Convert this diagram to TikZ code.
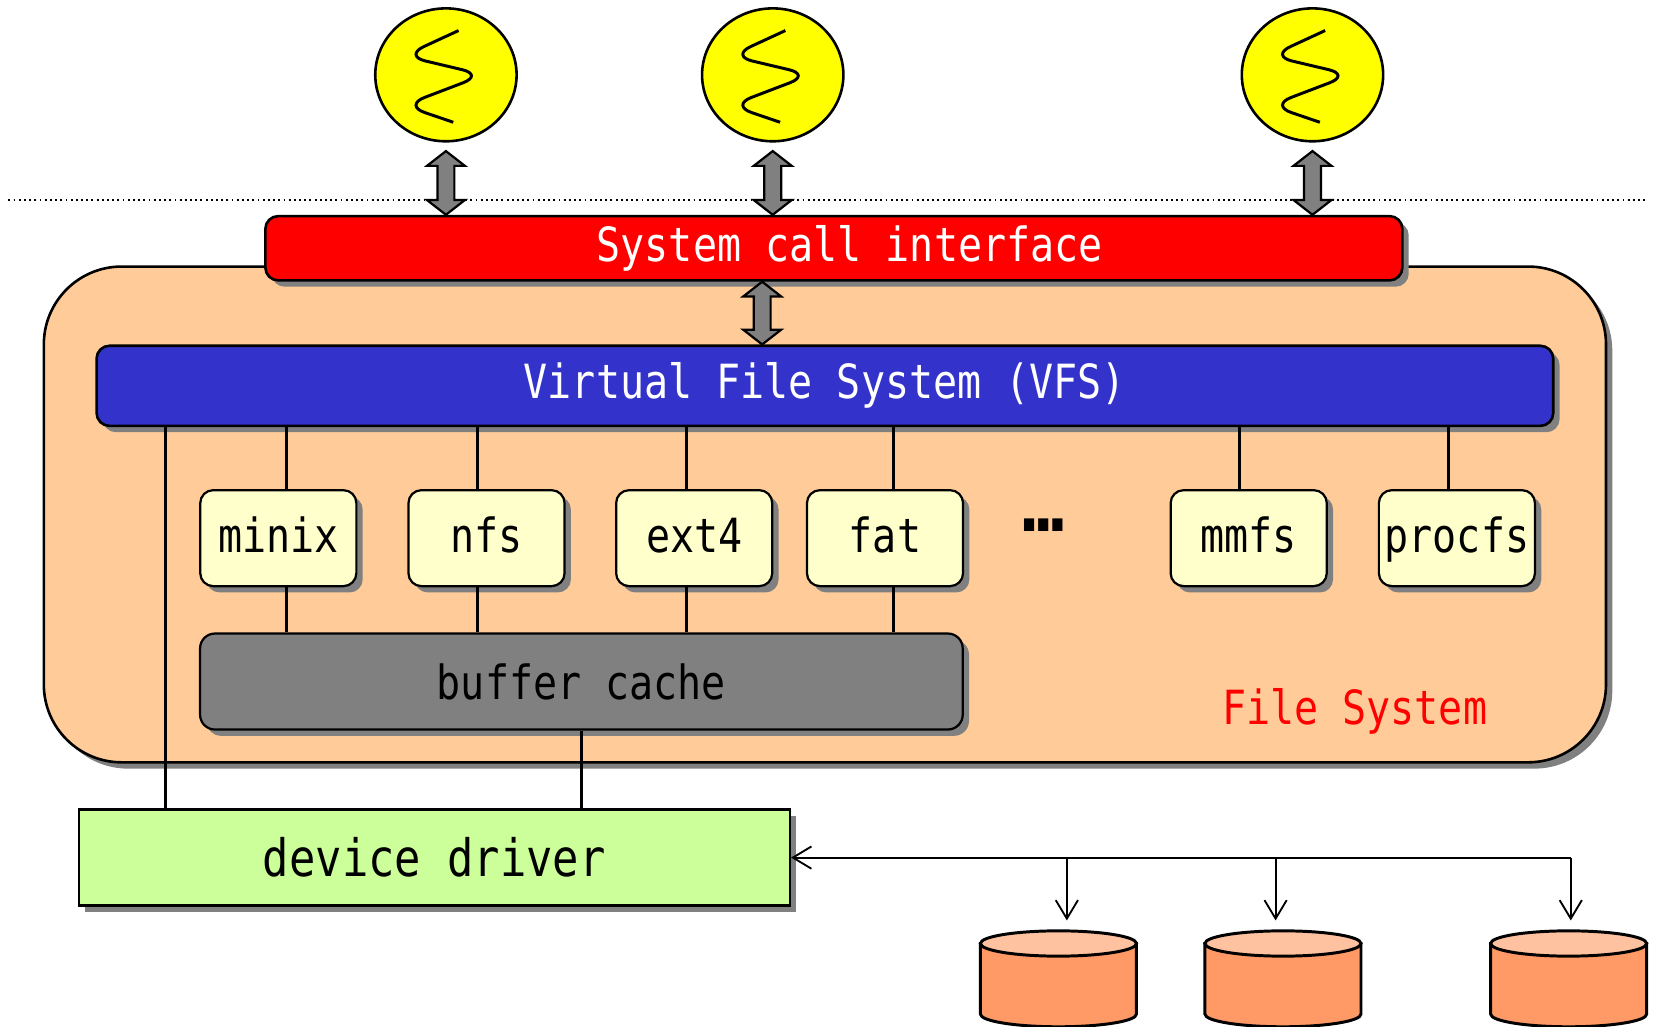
\documentclass[tikz,border=0pt]{standalone}
\usepackage{fontspec}
\setmonofont[FakeStretch=0.85]{DejaVu Sans Mono}
\newfontfamily\dotsfont{DejaVu Sans Mono}
\usetikzlibrary{shapes.geometric,shadows,calc,arrows.meta}

\definecolor{procyellow}{HTML}{FFFF00}
\definecolor{scired}{HTML}{FF0000}
\definecolor{vfsblue}{HTML}{3333CC}
\definecolor{fsorange}{HTML}{FFCC99}
\definecolor{fsyellow}{HTML}{FFFFCC}
\definecolor{drvgreen}{HTML}{CCFF99}
\definecolor{diskbody}{HTML}{FF9966}
\definecolor{disktop}{HTML}{FFC2A0}

\tikzset{
  shade box/.style={drop shadow={shadow xshift=1.7pt,shadow yshift=-1.7pt,fill=black!50,opacity=1}},
  process/.style={ellipse,draw,line width=0.7pt,fill=procyellow,minimum width=1.34cm,minimum height=1.26cm,inner sep=0pt},
  fatarr/.style={draw=black,fill=black!50,line width=0.6pt},
  fsframe/.style={draw,line width=0.7pt,fill=fsorange,rounded corners=21pt,minimum width=14.81cm,minimum height=4.70cm,shade box},
  scibox/.style={draw,line width=0.7pt,fill=scired,text=white,rounded corners=3.5pt,minimum width=10.78cm,minimum height=0.61cm,inner sep=0pt,shade box},
  vfsbox/.style={draw,line width=0.7pt,fill=vfsblue,text=white,rounded corners=3.5pt,minimum width=13.81cm,minimum height=0.76cm,inner sep=0pt,shade box},
  fsnode/.style={draw,line width=0.6pt,fill=fsyellow,rounded corners=3.5pt,minimum width=1.48cm,minimum height=0.91cm,inner sep=0pt,text height=10pt,text depth=2pt,shade box},
  bufbox/.style={draw,line width=0.6pt,fill=black!50,rounded corners=4pt,minimum width=7.23cm,minimum height=0.91cm,inner sep=0pt,shade box},
  drvbox/.style={draw,line width=0.7pt,fill=drvgreen,minimum width=6.74cm,minimum height=0.91cm,inner sep=0pt,shade box,font=\ttfamily\fontsize{13.9}{16}\selectfont},
  bus/.style={line width=0.8pt},
  iobus/.style={line width=0.5pt,-{Straight Barb[length=5pt,width=6pt]}},
}

% fat two-headed arrow between an upper tip #1 and a lower tip #2
\newcommand{\fatarrow}[2]{%
  \draw[fatarr] (#1) -- ++(18,14) -- ++(-10,0) -- ($(#2)+(8,-14)$) -- ++(10,0) -- (#2)
    -- ++(-18,-14) -- ++(10,0) -- ($(#1)+(-8,14)$) -- ++(-10,0) -- cycle;}

\begin{document}
\begin{tikzpicture}[x=0.01cm,y=-0.01cm,every node/.style={font=\ttfamily\fontsize{12.7}{15}\selectfont}]
\useasboundingbox (0,0) rectangle (1568,974);

% user processes
\foreach \x [count=\i] in {423,733,1245} {
  \node[process] (p\i) at (\x,71) {};
  \draw[line width=0.8pt,rounded corners=6pt,shift={(p\i)}] (12,-42) -- (-40,-18) -- (36,0) -- (-40,29) -- (7,45);
}

\draw[line width=0.5pt,dash pattern=on 0.5pt off 0.9pt] (8,190) -- (1560,190);

% kernel part
\node[fsframe] (fs) at (782.5,488) {};
\node[scibox] (sci) at (791,235.5) {\hspace*{0.3cm}System call interface};
\node[vfsbox] (vfs) at (782.5,366) {Virtual File System (VFS)};

\foreach \i in {1,2,3} {
  \coordinate (t\i) at ([yshift=-2.3pt]p\i.south);
  \coordinate (b\i) at (sci.north -| p\i);
  \fatarrow{t\i}{b\i}
}
\coordinate (mid) at (723,300);
\coordinate (t4) at (sci.south -| mid);
\coordinate (b4) at (vfs.north -| mid);
\fatarrow{t4}{b4}

\foreach \name/\x/\lx in {minix/264/272,nfs/461.5/453,ext4/658.5/651,fat/839.5/848,mmfs/1184.5/1176,procfs/1382/1374} {
  \node[fsnode] (\name) at (\x,510.5) {\name};
  \draw[bus] (vfs.south -| \lx,0) -- (\name.north -| \lx,0);
}
\node[font=\dotsfont\bfseries\fontsize{19}{20}\selectfont] (more) at (990,498) {…};

\node[bufbox] (buf) at (551.5,646.5) {buffer cache};
\foreach \lx/\name in {272/minix,453/nfs,651/ext4,848/fat}
  \draw[bus] (\name.south -| \lx,0) -- (buf.north -| \lx,0);

\node[text=scired] (fslabel) at (1285,675) {File System};

% device driver and disks
\node[drvbox] (drv) at (412,813.5) {device driver};
\coordinate (vd) at (157,0);
\draw[bus] (vfs.south -| vd) -- (drv.north -| vd);
\draw[bus] (buf.south) -- (drv.north -| buf.south);

\foreach \x/\ax [count=\i] in {1004/1012,1217/1210,1488/1490} {
  \filldraw[line width=0.8pt,fill=diskbody] (\x-74,895) -- (\x-74,962) arc (180:0:74 and 12) -- (\x+74,895) -- cycle;
  \filldraw[line width=0.8pt,fill=disktop] (\x,895) ellipse (74 and 12);
  \coordinate (d\i) at (\ax,883);
}
\draw[iobus] (drv.east -| d3) -- (drv.east);
\foreach \i in {1,2,3}
  \draw[iobus] (drv.east -| d\i) -- ([yshift=2.8pt]d\i);
\end{tikzpicture}
\end{document}
